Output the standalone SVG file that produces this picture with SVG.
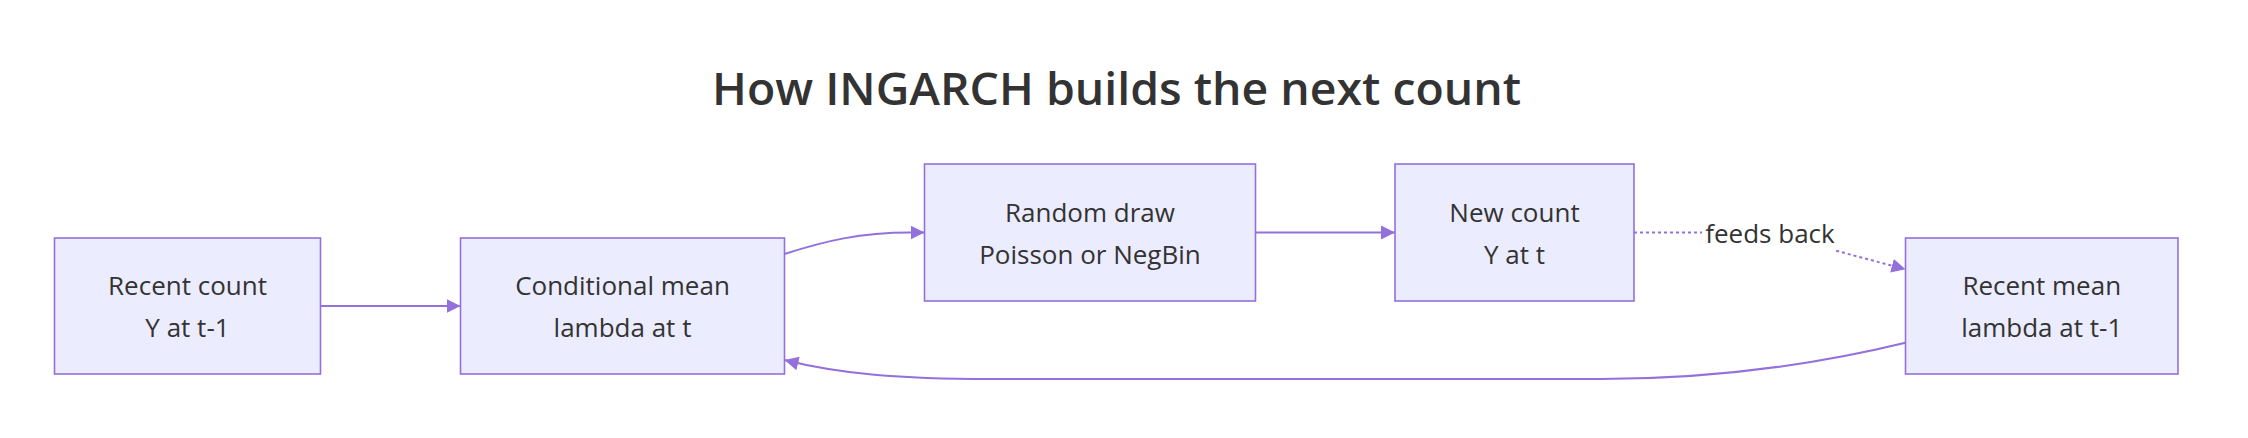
<svg xmlns="http://www.w3.org/2000/svg" width="2248" height="438" viewBox="0 0 2248 438">
  <style>
    .node rect { fill: #ECECFF; stroke: #9370DB; stroke-width: 1.6; }
    .node text { font-family: "Open Sans", "Liberation Sans", sans-serif; font-size: 26px; fill: #333333; text-anchor: middle; }
    .edge { fill: none; stroke: #9370DB; stroke-width: 2; }
    .dotted { stroke-dasharray: 3 3; }
    .title { font-family: "Open Sans", "Liberation Sans", sans-serif; font-size: 45px; font-weight: 600; fill: #333333; text-anchor: middle; }
    .elabel { font-family: "Open Sans", "Liberation Sans", sans-serif; font-size: 26px; fill: #333333; text-anchor: middle; }
  </style>
  <defs>
    <marker id="arrow" viewBox="0 0 10 10" refX="10" refY="5" markerUnits="userSpaceOnUse" markerWidth="14" markerHeight="14" orient="auto">
      <path d="M0,0 L10,5 L0,10 z" fill="#9370DB"/>
    </marker>
  </defs>
  <rect x="0" y="0" width="2248" height="438" fill="#ffffff"/>
  <text class="title" x="1116.6" y="105" textLength="809" lengthAdjust="spacingAndGlyphs">How INGARCH builds the next count</text>

  <g id="connectors">
    <path class="edge" d="M320.5,306 L460.5,306" marker-end="url(#arrow)"/>
    <path class="edge" d="M784.5,254 C825,241 860,232.5 910,232.5 L924.5,232.5" marker-end="url(#arrow)"/>
    <path class="edge" d="M1255.5,232.5 L1395,232.5" marker-end="url(#arrow)"/>
    <path class="edge dotted" d="M1634,232.5 L1720,232.5 C1770,232.5 1800,241 1836,250.7 L1905.5,269.3" marker-end="url(#arrow)"/>
    <path class="edge" d="M1905.5,342.7 C1826,362 1720,379 1600,379 L990,379 C900,379 840,374 784.5,360" marker-end="url(#arrow)"/>
    <g id="edge-label-feeds-back">
      <rect x="1702" y="213" width="134" height="40" fill="#ffffff"/>
      <text class="elabel" x="1770" y="242.7">feeds back</text>
    </g>
  </g>

  <g id="node-recent-count" class="node">
    <rect x="54.5" y="238" width="266" height="136"/>
    <text x="187.5" y="295">Recent count</text>
    <text x="187.5" y="336.7">Y at t-1</text>
  </g>
  <g id="node-conditional-mean" class="node">
    <rect x="460.5" y="238" width="324" height="136"/>
    <text x="622.5" y="295">Conditional mean</text>
    <text x="622.5" y="336.7">lambda at t</text>
  </g>
  <g id="node-random-draw" class="node">
    <rect x="924.5" y="164" width="331" height="137"/>
    <text x="1090" y="221.5">Random draw</text>
    <text x="1090" y="263.5">Poisson or NegBin</text>
  </g>
  <g id="node-new-count" class="node">
    <rect x="1395" y="164" width="239" height="137"/>
    <text x="1514.5" y="221.5">New count</text>
    <text x="1514.5" y="263.5">Y at t</text>
  </g>
  <g id="node-recent-mean" class="node">
    <rect x="1905.5" y="238" width="272.5" height="136"/>
    <text x="2041.75" y="295">Recent mean</text>
    <text x="2041.75" y="336.7">lambda at t-1</text>
  </g>
</svg>
